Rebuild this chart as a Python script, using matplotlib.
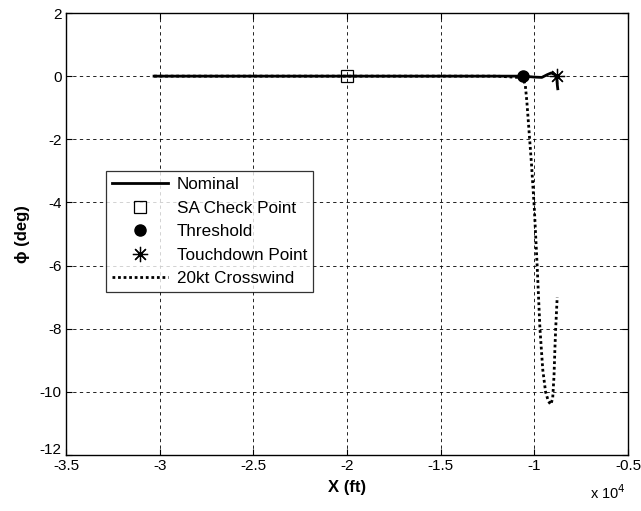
import matplotlib
matplotlib.use('Agg')
from matplotlib import pyplot as plt
from matplotlib import transforms

plt.rcParams['font.family'] = ['Liberation Sans', 'DejaVu Sans']
plt.rcParams['axes.unicode_minus'] = False

# nominal trajectory (x in 1e4 ft, phi in deg)
nom_x = [-3.03, -2.5, -2.0, -1.5, -1.2, -1.06, -1.0, -0.96, -0.93, -0.91, -0.89, -0.88, -0.877, -0.875]
nom_phi = [0.0, 0.0, 0.0, 0.0, 0.0, 0.0, -0.03, -0.04, 0.05, 0.1, 0.05, -0.1, -0.3, -0.4]

# 20kt crosswind trajectory
cw_x = [-3.03, -2.5, -2.0, -1.5, -1.2, -1.06, -1.048, -1.04, -1.03, -1.015, -1.0, -0.985,
        -0.97, -0.955, -0.94, -0.925, -0.912, -0.902, -0.895, -0.89, -0.886, -0.882, -0.878]
cw_phi = [0.0, 0.0, 0.0, 0.0, 0.0, -0.05, -0.3, -0.8, -1.6, -2.8, -4.2, -6.0,
          -8.0, -9.3, -10.0, -10.3, -10.4, -10.2, -9.5, -8.6, -8.0, -7.5, -7.0]

sa_check = (-2.0, 0.0)
threshold = (-1.06, 0.0)
touchdown = (-0.88, 0.0)

fig = plt.figure(figsize=(6.41, 5.11), dpi=100)
ax = fig.add_axes([66/641, 1-455/511, (628-66)/641, (455-13)/511])

ax.plot(nom_x, nom_phi, color='black', lw=2, label='Nominal', zorder=3)
ax.plot(*sa_check, ls='none', marker='s', ms=9, mfc='none', mec='black', mew=0.9,
        label='SA Check Point', zorder=4)
ax.plot(*threshold, ls='none', marker='o', ms=8, mfc='black', mec='black',
        label='Threshold', zorder=4)
ax.plot(*touchdown, ls='none', marker=(8, 2, 0), ms=11, color='black', mew=0.9,
        label='Touchdown Point', zorder=4)
ax.plot(cw_x, cw_phi, color='black', lw=2, ls=(0, (1, 1)), label='20kt Crosswind', zorder=3)

ax.set_xlim(-3.5, -0.5)
ax.set_ylim(-12, 2)
ax.set_xticks([-3.5, -3, -2.5, -2, -1.5, -1, -0.5])
ax.set_xticklabels(['-3.5', '-3', '-2.5', '-2', '-1.5', '-1', '-0.5'])
ax.set_yticks(range(-12, 3, 2))
ax.tick_params(direction='in', top=True, right=True, labelsize=11, length=4, width=0.8, pad=3)
ax.grid(True, color='black', ls=(0, (4, 4)), lw=0.6)
for s in ax.spines.values():
    s.set_linewidth(1.0)

# nudge the bottom y label up a bit, like the original
lab = ax.get_yticklabels()[0]
lab.set_transform(lab.get_transform() + transforms.ScaledTranslation(0, 5/72, fig.dpi_scale_trans))

ax.set_xlabel('X (ft)', fontsize=12, fontweight='bold', labelpad=5)
ax.set_ylabel('\u03d5 (deg)', fontsize=12, fontweight='bold', labelpad=7)
fig.text(590/641, 1-493/511, r'x 10$^{4}$', fontsize=10.5, ha='left', va='center')

leg = ax.legend(loc='upper left', bbox_to_anchor=((106-66)/562, (455-171)/442),
                fontsize=12.3, frameon=True, fancybox=False, edgecolor='black',
                handlelength=3.3, borderpad=0.35, labelspacing=0.5, handletextpad=0.5,
                borderaxespad=0)
leg.get_frame().set_linewidth(0.9)

plt.savefig('out.png', dpi=100)
